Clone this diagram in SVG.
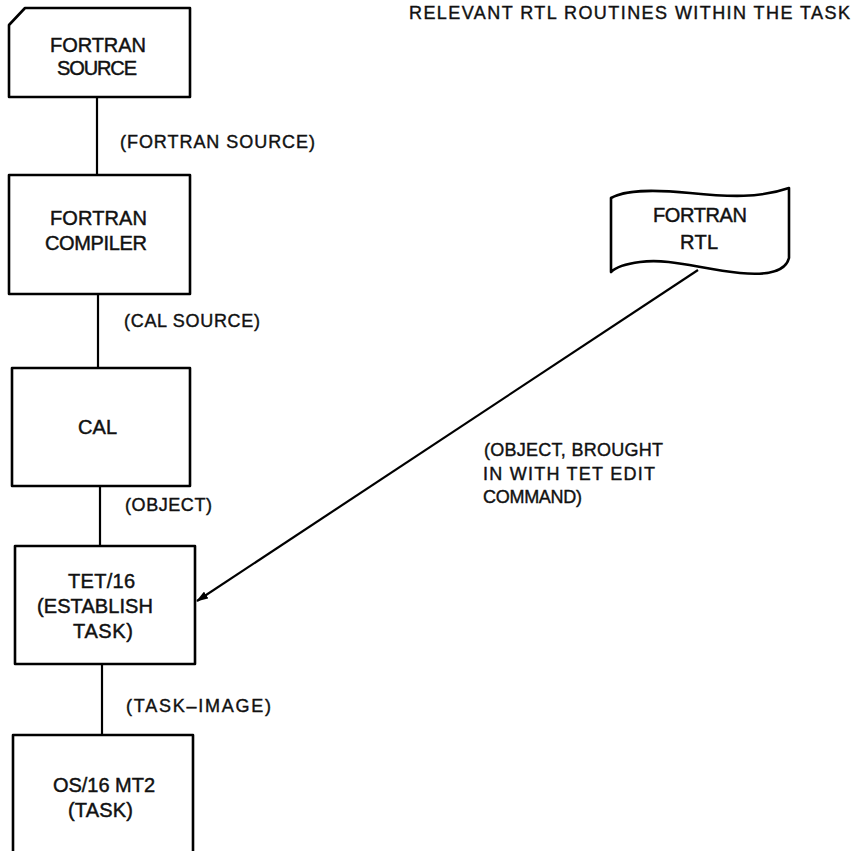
<svg xmlns="http://www.w3.org/2000/svg" width="852" height="851" viewBox="0 0 852 851">
<style>
.box{fill:none;stroke:#000;stroke-width:2.6;stroke-linejoin:round}
.con{fill:none;stroke:#000;stroke-width:2.2}
.t{font-family:"Liberation Sans",Arial,sans-serif;font-size:20px;fill:#111;stroke:#111;stroke-width:0.45}
.l{font-family:"Liberation Sans",Arial,sans-serif;font-size:18px;fill:#111;stroke:#111;stroke-width:0.4}
</style>
<defs>
<marker id="ah" viewBox="0 0 12 8" refX="11" refY="4" markerWidth="12" markerHeight="8" markerUnits="userSpaceOnUse" orient="auto">
<path d="M0,0 L12,4 L0,8 Z" fill="#000"/>
</marker>
</defs>
<rect width="852" height="851" fill="#fff"/>
<text class="l" x="409" y="19" textLength="441" lengthAdjust="spacing">RELEVANT RTL ROUTINES WITHIN THE TASK</text>
<g id="connectors">
<line class="con" x1="97" y1="97" x2="97" y2="175"/>
<line class="con" x1="98" y1="294" x2="98" y2="368"/>
<line class="con" x1="100" y1="486" x2="100" y2="546"/>
<line class="con" x1="102" y1="664" x2="102" y2="735"/>
<line class="con" x1="698" y1="270" x2="197" y2="601" stroke-width="1.8" marker-end="url(#ah)"/>
<text class="l" x="120" y="148" textLength="195" lengthAdjust="spacing">(FORTRAN SOURCE)</text>
<text class="l" x="124" y="327" textLength="136" lengthAdjust="spacing">(CAL SOURCE)</text>
<text class="l" x="125" y="511" textLength="87" lengthAdjust="spacing">(OBJECT)</text>
<text class="l" x="126" y="712" textLength="145" lengthAdjust="spacing">(TASK–IMAGE)</text>
<text class="l" x="484" y="456" textLength="179" lengthAdjust="spacing">(OBJECT, BROUGHT</text>
<text class="l" x="483" y="480" textLength="172" lengthAdjust="spacing">IN WITH TET EDIT</text>
<text class="l" x="483" y="503" textLength="99" lengthAdjust="spacing">COMMAND)</text>
</g>
<g id="fortran-source">
<path class="box" d="M9,25 L25,8 L190,8 L190,97 L9,97 Z"/>
<text class="t" x="50" y="52" textLength="96" lengthAdjust="spacing">FORTRAN</text>
<text class="t" x="57" y="75" textLength="80" lengthAdjust="spacing">SOURCE</text>
</g>
<g id="fortran-compiler">
<rect class="box" x="9" y="175" width="181" height="119"/>
<text class="t" x="50" y="225" textLength="97" lengthAdjust="spacing">FORTRAN</text>
<text class="t" x="45" y="250" textLength="102" lengthAdjust="spacing">COMPILER</text>
</g>
<g id="cal">
<rect class="box" x="12" y="368" width="178" height="118"/>
<text class="t" x="78" y="434" textLength="39" lengthAdjust="spacing">CAL</text>
</g>
<g id="tet16">
<rect class="box" x="15" y="546" width="180" height="118"/>
<text class="t" x="68" y="588" textLength="67" lengthAdjust="spacing">TET/16</text>
<text class="t" x="37" y="613" textLength="116" lengthAdjust="spacing">(ESTABLISH</text>
<text class="t" x="73" y="638" textLength="60" lengthAdjust="spacing">TASK)</text>
</g>
<g id="os16">
<path class="box" d="M13,860 L13,735 L193,735 L193,860"/>
<text class="t" x="53" y="792" textLength="102" lengthAdjust="spacing">OS/16 MT2</text>
<text class="t" x="68" y="817" textLength="65" lengthAdjust="spacing">(TASK)</text>
</g>
<g id="fortran-rtl">
<path class="box" d="M611,198 C625,190 650,189 690,193 C730,197 760,198 789,188 L789,258 C786,270 770,276 740,273 C700,269 670,258 640,262 C625,264 615,268 611,272 Z"/>
<text class="t" x="653" y="222" textLength="94" lengthAdjust="spacing">FORTRAN</text>
<text class="t" x="680" y="249" textLength="38" lengthAdjust="spacing">RTL</text>
</g>
</svg>
